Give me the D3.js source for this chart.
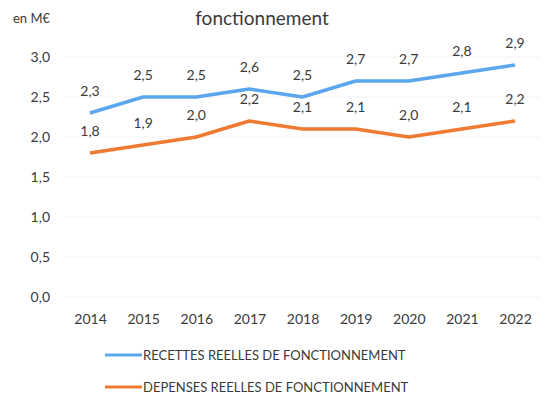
<!DOCTYPE html>
<html><head><meta charset="utf-8">
<script src="https://cdn.jsdelivr.net/npm/d3@7"></script>
<style>body{margin:0;background:#fff}svg{display:block}text{font-family:Lato,"Open Sans",sans-serif;fill:#3a3a3a}</style>
</head><body><svg id="c" width="545" height="401"></svg>
<script>
const years = ["2014","2015","2016","2017","2018","2019","2020","2021","2022"];
const recettes = [2.3,2.5,2.5,2.6,2.5,2.7,2.7,2.8,2.9];
const depenses = [1.8,1.9,2.0,2.2,2.1,2.1,2.0,2.1,2.2];
const yTicks = [0,0.5,1.0,1.5,2.0,2.5,3.0];
const seriesNames = ["RECETTES REELLES DE FONCTIONNEMENT","DEPENSES REELLES DE FONCTIONNEMENT"];
const colors = ["#5ba6ec","#f07a32"];

const svg = d3.select("#c");
const x = d3.scalePoint().domain(years).range([90,515]);
const y = d3.scaleLinear().domain([0,3]).range([297,57]);
const fmt = v => d3.format(".1f")(v).replace(".", ",");

// faint gridlines
svg.append("g").selectAll("line").data(yTicks).join("line")
  .attr("x1",65).attr("x2",540).attr("y1",d=>y(d)).attr("y2",d=>y(d))
  .attr("stroke","#f4f4f4").attr("stroke-width",1);

// y axis labels
const yAxis = d3.axisLeft(y).tickValues(yTicks).tickFormat(fmt).tickSize(0).tickPadding(0);
const gy = svg.append("g").attr("transform","translate(50,0)").call(yAxis);
gy.select(".domain").remove();
gy.selectAll("text").style("font-size","14px").attr("fill","#3a3a3a").style("font-family","Lato,sans-serif");

// x axis labels
const xAxis = d3.axisBottom(x).tickSize(0).tickPadding(0);
const gx = svg.append("g").attr("transform","translate(0,314)").call(xAxis);
gx.select(".domain").remove();
gx.selectAll("text").style("font-size","14px").attr("fill","#3a3a3a").style("font-family","Lato,sans-serif");

const line = d3.line().x((d,i)=>x(years[i])).y(d=>y(d));
[recettes, depenses].forEach((s,k)=>{
  svg.append("path").datum(s).attr("d",line).attr("fill","none")
    .attr("stroke",colors[k]).attr("stroke-width",3.5).attr("stroke-linejoin","round");
  svg.append("g").selectAll("text").data(s).join("text")
    .attr("x",(d,i)=>x(years[i])).attr("y",d=>y(d)-17)
    .attr("text-anchor","middle").style("font-size","14px").text(fmt);
});

// title
svg.append("text").attr("x",262).attr("y",25).attr("text-anchor","middle")
  .style("font-size","19px").text("fonctionnement");
svg.append("text").attr("x",13).attr("y",23).style("font-size","13px").text("en M€");

// legend
seriesNames.forEach((n,k)=>{
  const ly = 355 + k*32;
  svg.append("line").attr("x1",105).attr("x2",142).attr("y1",ly).attr("y2",ly)
    .attr("stroke",colors[k]).attr("stroke-width",3);
  svg.append("text").attr("x",143).attr("y",ly+5).style("font-size","13px").text(n);
});
</script></body></html>
